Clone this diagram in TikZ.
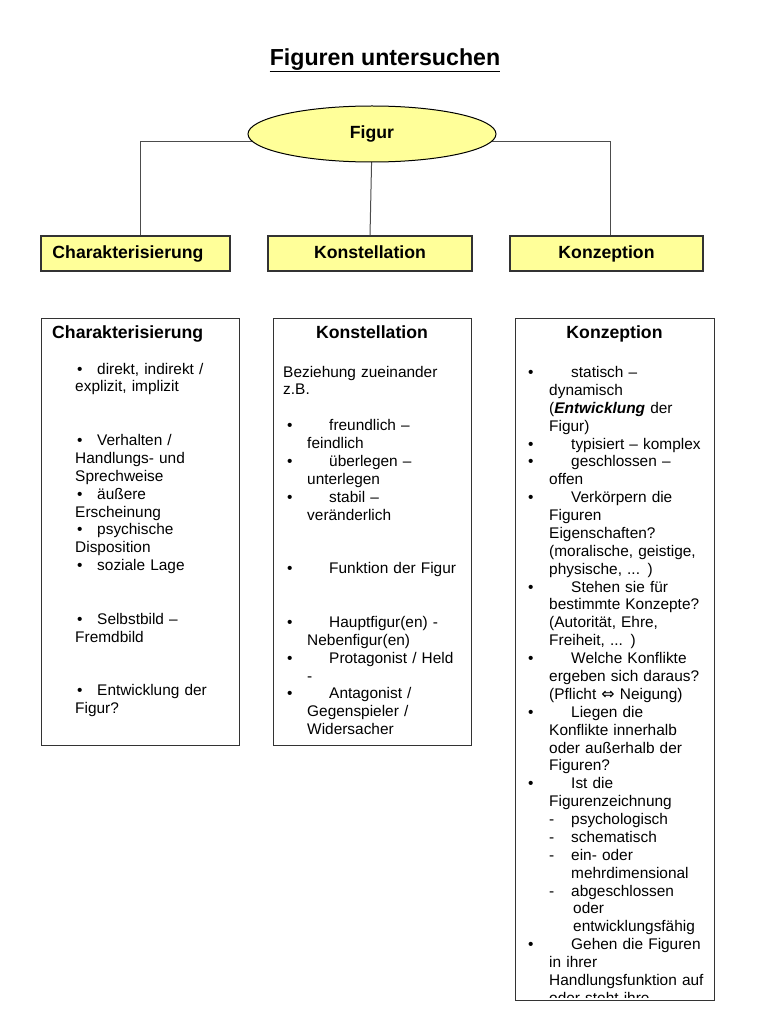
\documentclass[tikz,border=0pt]{standalone}
\usepackage{fontspec}
\setmainfont{Liberation Sans}
\newfontfamily\arrowfont{DejaVu Sans}
\usetikzlibrary{shapes.geometric}
\definecolor{figyellow}{HTML}{FFFF99}
\definecolor{figline}{HTML}{333333}
\newlength\px
\setlength\px{0.85pt}
\newcommand{\bul}[2]{\makebox[#2\px][l]{\hspace*{#1\px}\textbullet}}
\newcommand{\ind}[1]{\hspace*{#1\px}}
\newcommand{\dsh}{\ind{21}\makebox[22\px][l]{-}}
\newcommand{\gap}{\\[35.8\px]}

\begin{document}
\begin{tikzpicture}[
  x=0.85pt, y=-0.85pt,
  topbox/.style={draw=figline, fill=figyellow, line width=1.2\px, inner sep=0pt, minimum height=35\px, text height=11pt, text depth=3pt, font=\fontsize{15}{18}\selectfont\bfseries},
  panel/.style={draw=figline, line width=1.2\px, anchor=north west, inner sep=0pt},
  head/.style={anchor=base, inner sep=0pt, font=\fontsize{15}{18}\selectfont\bfseries},
  body/.style={anchor=base west, inner sep=0pt, align=left, text width=#1, font=\fontsize{13.1}{15.2}\selectfont},
  link/.style={draw=black!70, line width=1\px}
]
\useasboundingbox (0,0) rectangle (768,1024);

\node[anchor=base, inner sep=0pt, font=\fontsize{19.7}{24}\selectfont\bfseries] (title) at (385,66) {Figuren untersuchen};
\draw[line width=1.8\px] ([yshift=-5.5\px]title.base west) -- ([yshift=-5.5\px]title.base east);

\node[topbox, minimum width=189\px] (charTop) at (135.5,253.5) {Charakterisierung\hspace*{15\px}};
\node[topbox, minimum width=204\px] (konsTop) at (370,253.5) {Konstellation};
\node[topbox, minimum width=193\px] (konzTop) at (606.5,253.5) {Konzeption};

% lines behind the ellipse
\draw[link] ([xshift=4.5\px]charTop.north) |- (372,142);
\draw[link] (372,142) -- (konsTop.north);
\draw[link] ([xshift=3.5\px]konzTop.north) |- (372,142);
\node[ellipse, draw=black, fill=figyellow, line width=1\px, minimum width=248\px, minimum height=56\px, inner sep=0pt, font=\fontsize{15}{18}\selectfont\bfseries] (figur) at (372,134) {Figur};

% three panels
\node[panel, minimum width=198\px, minimum height=427\px] (charBox) at (41,318) {};
\node[panel, minimum width=198\px, minimum height=427\px] (konsBox) at (273,318) {};
\node[panel, minimum width=199\px, minimum height=682\px] (konzBox) at (515,318) {};

\node[head, anchor=base west] (charHead) at (52,338) {Charakterisierung};
\node[head] (konsHead) at (372,338) {Konstellation};
\node[head] (konzHead) at (614.5,338) {Konzeption};

\node[body=160\px] (charText) at (75,374) {\bul{2}{22}direkt, indirekt /\\ explizit, implizit\gap
\bul{2}{22}Verhalten /\\ Handlungs- und\\ Sprechweise\\
\bul{2}{22}äußere\\ Erscheinung\\
\bul{2}{22}psychische\\ Disposition\\
\bul{2}{22}soziale Lage\gap
\bul{2}{22}Selbstbild –\\ Fremdbild\gap
\bul{2}{22}Entwicklung der\\ Figur?};

\node[body=185\px] (konsText) at (283,377) {Beziehung zueinander\\ z.B.\\[17.9\px]
\bul{4}{46}freundlich –\\ \ind{24}feindlich\\
\bul{4}{46}überlegen –\\ \ind{24}unterlegen\\
\bul{4}{46}stabil –\\ \ind{24}veränderlich\gap
\bul{4}{46}Funktion der Figur\gap
\bul{4}{46}Hauptfigur(en) -\\ \ind{24}Nebenfigur(en)\\
\bul{4}{46}Protagonist / Held\\ \ind{24}-\\
\bul{4}{46}Antagonist /\\ \ind{24}Gegenspieler /\\ \ind{24}Widersacher};

\begin{scope}
\clip (konzBox.north west) rectangle ([yshift=4\px]konzBox.south east);
\node[body=190\px] (konzText) at (528,377.5) {\bul{0}{43}statisch –\\ \ind{21}dynamisch\\
\ind{21}(\textbf{\textit{Entwicklung}} der\\ \ind{21}Figur)\\
\bul{0}{43}typisiert – komplex\\
\bul{0}{43}geschlossen –\\ \ind{21}offen\\
\bul{0}{43}Verkörpern die\\ \ind{21}Figuren\\ \ind{21}Eigenschaften?\\
\ind{21}(moralische, geistige,\\ \ind{21}physische, ... )\\
\bul{0}{43}Stehen sie für\\ \ind{21}bestimmte Konzepte?\\
\ind{21}(Autorität, Ehre,\\ \ind{21}Freiheit, ... )\\
\bul{0}{43}Welche Konflikte\\ \ind{21}ergeben sich daraus?\\
\ind{21}(Pflicht {\arrowfont\fontsize{13.5}{15.2}\selectfont ⇔} Neigung)\\
\bul{0}{43}Liegen die\\ \ind{21}Konflikte innerhalb\\
\ind{21}oder außerhalb der\\ \ind{21}Figuren?\\
\bul{0}{43}Ist die\\ \ind{21}Figurenzeichnung\\
\dsh psychologisch\\
\dsh schematisch\\
\dsh ein- oder\\ \ind{43}mehrdimensional\\
\dsh abgeschlossen\\ \ind{45}oder\\ \ind{45}entwicklungsfähig\\
\bul{0}{43}Gehen die Figuren\\ \ind{21}in ihrer\\
\ind{21}Handlungsfunktion auf\\ \ind{21}oder steht ihre};
\end{scope}
\end{tikzpicture}
\end{document}
